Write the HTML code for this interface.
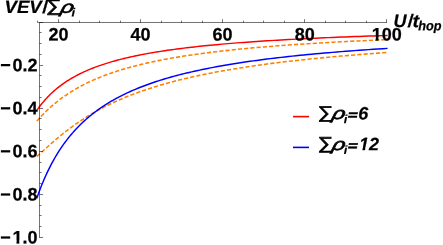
<!DOCTYPE html>
<html><head><meta charset="utf-8">
<title>VEV plot</title>
<style>
html,body{margin:0;padding:0;background:#fff;}
body{width:443px;height:245px;overflow:hidden;font-family:"Liberation Sans",sans-serif;}
svg{display:block}
text{font-family:"Liberation Sans",sans-serif;font-weight:bold;fill:#000;font-size:18px;stroke:#000;stroke-width:0.25px;}
.txt{filter:grayscale(1);}
.it text{font-style:italic;stroke-width:0.2px;}
.it text.up{font-style:normal;font-weight:normal;stroke-width:0.7px;}
.it text.rh{font-weight:normal;stroke-width:0.7px;}
.it text.eq{stroke-width:0.8px;}
text.sub{font-size:12.8px;stroke-width:0.2px;}
.it text.sub2{font-size:13.3px;stroke-width:0.25px;}
.it text.upb{font-style:normal;stroke-width:0.3px;}
.it text.ax{stroke-width:0.2px;}
</style></head><body>
<svg width="443" height="245" viewBox="0 0 443 245">
<defs>
<clipPath id="c1"><path d="M-2 -15H12V-2.96H6.85V0.6H4.02V-2.96H-2Z"/></clipPath>
<clipPath id="c1i"><path d="M-2 -15H13V-3.1H6.53L5.81 0.6H3.1L3.82 -3.1H-2Z"/></clipPath>
</defs>
<rect width="443" height="245" fill="#fff"/>
<g fill="none" stroke-linejoin="round">
<path d="M36.84 121.06 L37.57 120.23 L38.30 119.40 L39.05 118.58 L39.81 117.75 L40.57 116.93 L41.34 116.11 L42.13 115.29 L42.92 114.47 L43.72 113.66 L44.53 112.85 L45.35 112.03 L46.18 111.23 L47.02 110.42 L47.87 109.62 L48.74 108.82 L49.61 108.02 L50.49 107.23 L51.38 106.44 L52.29 105.65 L53.20 104.87 L54.13 104.09 L55.06 103.31 L56.01 102.54 L56.97 101.77 L57.94 101.00 L58.93 100.24 L59.92 99.48 L60.93 98.73 L61.95 97.98 L62.98 97.24 L64.02 96.50 L65.08 95.76 L66.15 95.03 L67.23 94.30 L68.32 93.58 L69.43 92.86 L70.55 92.15 L71.69 91.44 L72.84 90.73 L74.00 90.03 L75.17 89.34 L76.37 88.65 L77.57 87.97 L78.79 87.29 L80.02 86.61 L81.27 85.94 L82.54 85.28 L83.82 84.62 L85.11 83.96 L86.42 83.31 L87.75 82.67 L89.09 82.03 L90.45 81.40 L91.82 80.77 L93.22 80.14 L94.62 79.52 L96.05 78.91 L97.49 78.30 L98.95 77.70 L100.43 77.10 L101.92 76.51 L103.44 75.92 L104.97 75.34 L106.52 74.76 L108.09 74.19 L109.68 73.62 L111.28 73.06 L112.91 72.50 L114.55 71.95 L116.22 71.40 L117.91 70.86 L119.61 70.33 L121.34 69.79 L123.09 69.27 L124.85 68.75 L126.64 68.23 L128.46 67.72 L130.29 67.21 L132.14 66.71 L134.02 66.21 L135.92 65.72 L137.85 65.23 L139.79 64.75 L141.76 64.28 L143.76 63.80 L145.77 63.33 L147.82 62.87 L149.88 62.41 L151.97 61.96 L154.09 61.51 L156.23 61.07 L158.40 60.63 L160.60 60.19 L162.82 59.76 L165.07 59.33 L167.34 58.91 L169.64 58.49 L171.97 58.08 L174.33 57.67 L176.72 57.27 L179.13 56.87 L181.58 56.47 L184.05 56.08 L186.56 55.69 L189.09 55.31 L191.65 54.93 L194.25 54.55 L196.88 54.18 L199.53 53.81 L202.23 53.45 L204.95 53.09 L207.70 52.74 L210.49 52.39 L213.32 52.04 L216.17 51.69 L219.06 51.35 L221.99 51.02 L224.95 50.69 L227.95 50.36 L230.98 50.03 L234.05 49.71 L237.16 49.39 L240.30 49.08 L243.48 48.77 L246.71 48.46 L249.96 48.15 L253.26 47.85 L256.60 47.56 L259.98 47.26 L263.40 46.97 L266.86 46.68 L270.36 46.40 L273.91 46.12 L277.50 45.84 L281.13 45.57 L284.80 45.29 L288.52 45.03 L292.28 44.76 L296.09 44.50 L299.95 44.24 L303.85 43.98 L307.80 43.73 L311.79 43.48 L315.84 43.23 L319.93 42.98 L324.08 42.74 L328.27 42.50 L332.51 42.27 L336.81 42.03 L341.15 41.80 L345.55 41.57 L350.00 41.35 L354.51 41.12 L359.07 40.90 L363.68 40.68 L368.35 40.47 L373.08 40.26 L377.86 40.04 L382.70 39.84 L387.60 39.63" stroke="#ff8000" stroke-width="1.55" stroke-dasharray="4.2 2.05"/>
<path d="M36.84 156.44 L37.57 155.80 L38.30 155.14 L39.05 154.48 L39.81 153.80 L40.57 153.11 L41.34 152.41 L42.13 151.71 L42.92 150.99 L43.72 150.26 L44.53 149.53 L45.35 148.79 L46.18 148.04 L47.02 147.29 L47.87 146.52 L48.74 145.76 L49.61 144.98 L50.49 144.20 L51.38 143.41 L52.29 142.62 L53.20 141.83 L54.13 141.03 L55.06 140.22 L56.01 139.42 L56.97 138.61 L57.94 137.79 L58.93 136.97 L59.92 136.15 L60.93 135.33 L61.95 134.51 L62.98 133.68 L64.02 132.85 L65.08 132.02 L66.15 131.19 L67.23 130.36 L68.32 129.53 L69.43 128.69 L70.55 127.86 L71.69 127.03 L72.84 126.19 L74.00 125.36 L75.17 124.53 L76.37 123.69 L77.57 122.86 L78.79 122.03 L80.02 121.20 L81.27 120.38 L82.54 119.55 L83.82 118.73 L85.11 117.90 L86.42 117.08 L87.75 116.26 L89.09 115.45 L90.45 114.63 L91.82 113.82 L93.22 113.01 L94.62 112.20 L96.05 111.40 L97.49 110.60 L98.95 109.80 L100.43 109.01 L101.92 108.22 L103.44 107.43 L104.97 106.65 L106.52 105.87 L108.09 105.09 L109.68 104.32 L111.28 103.55 L112.91 102.78 L114.55 102.02 L116.22 101.26 L117.91 100.51 L119.61 99.76 L121.34 99.02 L123.09 98.28 L124.85 97.54 L126.64 96.81 L128.46 96.08 L130.29 95.36 L132.14 94.64 L134.02 93.93 L135.92 93.22 L137.85 92.51 L139.79 91.82 L141.76 91.12 L143.76 90.43 L145.77 89.75 L147.82 89.07 L149.88 88.39 L151.97 87.72 L154.09 87.06 L156.23 86.40 L158.40 85.74 L160.60 85.09 L162.82 84.44 L165.07 83.80 L167.34 83.17 L169.64 82.54 L171.97 81.91 L174.33 81.29 L176.72 80.68 L179.13 80.07 L181.58 79.46 L184.05 78.86 L186.56 78.27 L189.09 77.68 L191.65 77.09 L194.25 76.51 L196.88 75.94 L199.53 75.37 L202.23 74.80 L204.95 74.24 L207.70 73.69 L210.49 73.14 L213.32 72.59 L216.17 72.05 L219.06 71.51 L221.99 70.98 L224.95 70.46 L227.95 69.94 L230.98 69.42 L234.05 68.91 L237.16 68.40 L240.30 67.90 L243.48 67.41 L246.71 66.91 L249.96 66.43 L253.26 65.94 L256.60 65.46 L259.98 64.99 L263.40 64.52 L266.86 64.06 L270.36 63.60 L273.91 63.14 L277.50 62.69 L281.13 62.24 L284.80 61.80 L288.52 61.36 L292.28 60.93 L296.09 60.50 L299.95 60.08 L303.85 59.66 L307.80 59.24 L311.79 58.83 L315.84 58.42 L319.93 58.02 L324.08 57.62 L328.27 57.22 L332.51 56.83 L336.81 56.44 L341.15 56.06 L345.55 55.68 L350.00 55.31 L354.51 54.93 L359.07 54.57 L363.68 54.20 L368.35 53.84 L373.08 53.49 L377.86 53.13 L382.70 52.79 L387.60 52.44" stroke="#ff8000" stroke-width="1.55" stroke-dasharray="4.2 2.05"/>
<path d="M36.84 110.39 L37.57 109.34 L38.30 108.31 L39.05 107.29 L39.81 106.28 L40.57 105.28 L41.34 104.29 L42.13 103.32 L42.92 102.36 L43.72 101.41 L44.53 100.47 L45.35 99.54 L46.18 98.62 L47.02 97.71 L47.87 96.82 L48.74 95.93 L49.61 95.06 L50.49 94.19 L51.38 93.34 L52.29 92.50 L53.20 91.66 L54.13 90.84 L55.06 90.03 L56.01 89.22 L56.97 88.43 L57.94 87.64 L58.93 86.87 L59.92 86.10 L60.93 85.34 L61.95 84.59 L62.98 83.85 L64.02 83.12 L65.08 82.40 L66.15 81.69 L67.23 80.98 L68.32 80.29 L69.43 79.60 L70.55 78.92 L71.69 78.25 L72.84 77.58 L74.00 76.93 L75.17 76.28 L76.37 75.64 L77.57 75.01 L78.79 74.38 L80.02 73.76 L81.27 73.15 L82.54 72.55 L83.82 71.96 L85.11 71.37 L86.42 70.79 L87.75 70.21 L89.09 69.64 L90.45 69.08 L91.82 68.53 L93.22 67.98 L94.62 67.44 L96.05 66.90 L97.49 66.37 L98.95 65.85 L100.43 65.34 L101.92 64.83 L103.44 64.32 L104.97 63.82 L106.52 63.33 L108.09 62.85 L109.68 62.37 L111.28 61.89 L112.91 61.42 L114.55 60.96 L116.22 60.50 L117.91 60.05 L119.61 59.60 L121.34 59.16 L123.09 58.72 L124.85 58.29 L126.64 57.87 L128.46 57.45 L130.29 57.03 L132.14 56.62 L134.02 56.21 L135.92 55.81 L137.85 55.42 L139.79 55.02 L141.76 54.64 L143.76 54.26 L145.77 53.88 L147.82 53.50 L149.88 53.14 L151.97 52.77 L154.09 52.41 L156.23 52.05 L158.40 51.70 L160.60 51.36 L162.82 51.01 L165.07 50.67 L167.34 50.34 L169.64 50.01 L171.97 49.68 L174.33 49.36 L176.72 49.04 L179.13 48.72 L181.58 48.41 L184.05 48.10 L186.56 47.80 L189.09 47.50 L191.65 47.20 L194.25 46.91 L196.88 46.61 L199.53 46.33 L202.23 46.04 L204.95 45.76 L207.70 45.49 L210.49 45.21 L213.32 44.94 L216.17 44.68 L219.06 44.41 L221.99 44.15 L224.95 43.90 L227.95 43.64 L230.98 43.39 L234.05 43.14 L237.16 42.90 L240.30 42.65 L243.48 42.41 L246.71 42.18 L249.96 41.94 L253.26 41.71 L256.60 41.48 L259.98 41.26 L263.40 41.04 L266.86 40.82 L270.36 40.60 L273.91 40.38 L277.50 40.17 L281.13 39.96 L284.80 39.75 L288.52 39.55 L292.28 39.35 L296.09 39.15 L299.95 38.95 L303.85 38.75 L307.80 38.56 L311.79 38.37 L315.84 38.18 L319.93 37.99 L324.08 37.81 L328.27 37.63 L332.51 37.45 L336.81 37.27 L341.15 37.09 L345.55 36.92 L350.00 36.75 L354.51 36.58 L359.07 36.41 L363.68 36.25 L368.35 36.09 L373.08 35.92 L377.86 35.76 L382.70 35.61 L387.60 35.45" stroke="#ff0000" stroke-width="1.45"/>
<path d="M36.84 198.23 L37.57 196.14 L38.30 194.07 L39.05 192.02 L39.81 190.00 L40.57 188.01 L41.34 186.04 L42.13 184.09 L42.92 182.16 L43.72 180.26 L44.53 178.38 L45.35 176.52 L46.18 174.69 L47.02 172.88 L47.87 171.09 L48.74 169.32 L49.61 167.57 L50.49 165.84 L51.38 164.13 L52.29 162.44 L53.20 160.78 L54.13 159.13 L55.06 157.50 L56.01 155.89 L56.97 154.30 L57.94 152.73 L58.93 151.18 L59.92 149.65 L60.93 148.13 L61.95 146.64 L62.98 145.16 L64.02 143.70 L65.08 142.25 L66.15 140.83 L67.23 139.42 L68.32 138.03 L69.43 136.65 L70.55 135.29 L71.69 133.95 L72.84 132.62 L74.00 131.31 L75.17 130.01 L76.37 128.73 L77.57 127.47 L78.79 126.22 L80.02 124.98 L81.27 123.76 L82.54 122.55 L83.82 121.36 L85.11 120.18 L86.42 119.02 L87.75 117.87 L89.09 116.73 L90.45 115.61 L91.82 114.50 L93.22 113.41 L94.62 112.32 L96.05 111.25 L97.49 110.20 L98.95 109.15 L100.43 108.12 L101.92 107.10 L103.44 106.09 L104.97 105.10 L106.52 104.11 L108.09 103.14 L109.68 102.18 L111.28 101.23 L112.91 100.30 L114.55 99.37 L116.22 98.45 L117.91 97.55 L119.61 96.66 L121.34 95.77 L123.09 94.90 L124.85 94.04 L126.64 93.19 L128.46 92.34 L130.29 91.51 L132.14 90.69 L134.02 89.88 L135.92 89.08 L137.85 88.28 L139.79 87.50 L141.76 86.73 L143.76 85.96 L145.77 85.21 L147.82 84.46 L149.88 83.72 L151.97 82.99 L154.09 82.27 L156.23 81.56 L158.40 80.86 L160.60 80.16 L162.82 79.48 L165.07 78.80 L167.34 78.13 L169.64 77.46 L171.97 76.81 L174.33 76.16 L176.72 75.52 L179.13 74.89 L181.58 74.27 L184.05 73.65 L186.56 73.04 L189.09 72.44 L191.65 71.85 L194.25 71.26 L196.88 70.68 L199.53 70.11 L202.23 69.54 L204.95 68.98 L207.70 68.43 L210.49 67.88 L213.32 67.34 L216.17 66.81 L219.06 66.28 L221.99 65.76 L224.95 65.24 L227.95 64.73 L230.98 64.23 L234.05 63.73 L237.16 63.24 L240.30 62.76 L243.48 62.28 L246.71 61.81 L249.96 61.34 L253.26 60.88 L256.60 60.42 L259.98 59.97 L263.40 59.52 L266.86 59.08 L270.36 58.65 L273.91 58.22 L277.50 57.79 L281.13 57.37 L284.80 56.96 L288.52 56.55 L292.28 56.14 L296.09 55.74 L299.95 55.34 L303.85 54.95 L307.80 54.57 L311.79 54.19 L315.84 53.81 L319.93 53.44 L324.08 53.07 L328.27 52.70 L332.51 52.35 L336.81 51.99 L341.15 51.64 L345.55 51.29 L350.00 50.95 L354.51 50.61 L359.07 50.28 L363.68 49.95 L368.35 49.62 L373.08 49.30 L377.86 48.98 L382.70 48.66 L387.60 48.35" stroke="#0000ff" stroke-width="1.45"/>
</g>
<g stroke="#000" stroke-width="0.55" fill="none">
<line x1="37.6" y1="22.5" x2="387.0" y2="22.5"/>
<line x1="39.5" y1="22.5" x2="39.5" y2="237.8"/>
<line x1="37.50" y1="22.50" x2="37.50" y2="20.60"/>
<line x1="58.50" y1="22.50" x2="58.50" y2="19.20"/>
<line x1="79.50" y1="22.50" x2="79.50" y2="20.60"/>
<line x1="99.50" y1="22.50" x2="99.50" y2="20.60"/>
<line x1="120.50" y1="22.50" x2="120.50" y2="20.60"/>
<line x1="140.50" y1="22.50" x2="140.50" y2="19.20"/>
<line x1="161.50" y1="22.50" x2="161.50" y2="20.60"/>
<line x1="181.50" y1="22.50" x2="181.50" y2="20.60"/>
<line x1="202.50" y1="22.50" x2="202.50" y2="20.60"/>
<line x1="222.50" y1="22.50" x2="222.50" y2="19.20"/>
<line x1="243.50" y1="22.50" x2="243.50" y2="20.60"/>
<line x1="263.50" y1="22.50" x2="263.50" y2="20.60"/>
<line x1="284.50" y1="22.50" x2="284.50" y2="20.60"/>
<line x1="304.50" y1="22.50" x2="304.50" y2="19.20"/>
<line x1="325.50" y1="22.50" x2="325.50" y2="20.60"/>
<line x1="345.50" y1="22.50" x2="345.50" y2="20.60"/>
<line x1="366.50" y1="22.50" x2="366.50" y2="20.60"/>
<line x1="386.50" y1="22.50" x2="386.50" y2="19.20"/>
<line x1="39.50" y1="22.50" x2="43.10" y2="22.50"/>
<line x1="39.50" y1="32.50" x2="41.60" y2="32.50"/>
<line x1="39.50" y1="43.50" x2="41.60" y2="43.50"/>
<line x1="39.50" y1="54.50" x2="41.60" y2="54.50"/>
<line x1="39.50" y1="65.50" x2="43.10" y2="65.50"/>
<line x1="39.50" y1="75.50" x2="41.60" y2="75.50"/>
<line x1="39.50" y1="86.50" x2="41.60" y2="86.50"/>
<line x1="39.50" y1="97.50" x2="41.60" y2="97.50"/>
<line x1="39.50" y1="108.50" x2="43.10" y2="108.50"/>
<line x1="39.50" y1="118.50" x2="41.60" y2="118.50"/>
<line x1="39.50" y1="129.50" x2="41.60" y2="129.50"/>
<line x1="39.50" y1="140.50" x2="41.60" y2="140.50"/>
<line x1="39.50" y1="151.50" x2="43.10" y2="151.50"/>
<line x1="39.50" y1="162.50" x2="41.60" y2="162.50"/>
<line x1="39.50" y1="172.50" x2="41.60" y2="172.50"/>
<line x1="39.50" y1="183.50" x2="41.60" y2="183.50"/>
<line x1="39.50" y1="194.50" x2="43.10" y2="194.50"/>
<line x1="39.50" y1="205.50" x2="41.60" y2="205.50"/>
<line x1="39.50" y1="215.50" x2="41.60" y2="215.50"/>
<line x1="39.50" y1="226.50" x2="41.60" y2="226.50"/>
<line x1="39.50" y1="237.50" x2="43.10" y2="237.50"/>
</g>
<g class="txt">
<text text-anchor="middle" transform="translate(58.50,40.50) rotate(0.05)">20</text>
<text text-anchor="middle" transform="translate(140.45,40.50) rotate(0.05)">40</text>
<text text-anchor="middle" transform="translate(222.40,40.50) rotate(0.05)">60</text>
<text text-anchor="middle" transform="translate(304.65,40.50) rotate(0.05)">80</text>
<text clip-path="url(#c1)" transform="translate(371.68,40.50) rotate(0.05)">1</text>
<text transform="translate(381.69,40.50) rotate(0.05)">00</text>
<text text-anchor="end" transform="translate(37.50,71.15) rotate(0.05)">−<tspan dx="1.8">0.2</tspan></text>
<text text-anchor="end" transform="translate(37.50,114.25) rotate(0.05)">−<tspan dx="1.8">0.4</tspan></text>
<text text-anchor="end" transform="translate(37.50,157.35) rotate(0.05)">−<tspan dx="1.8">0.6</tspan></text>
<text text-anchor="end" transform="translate(37.50,200.45) rotate(0.05)">−<tspan dx="1.8">0.8</tspan></text>
<text transform="translate(0.17,243.55) rotate(0.05)">−</text>
<text clip-path="url(#c1)" transform="translate(12.48,243.55) rotate(0.05)">1</text>
<text transform="translate(22.49,243.55) rotate(0.05)">.0</text>
</g>
<g class="txt it">
<text class="ax" transform="translate(4.55,13.10) rotate(0.05) scale(1.035,1)">VEV</text>
<text class="upb" transform="translate(42.30,13.10) rotate(0.05) skewX(-5)">/</text>
<text class="up" transform="translate(46.08,11.32) rotate(0.05) scale(1.202,0.939)">&#8721;</text>
<text class="rh" transform="translate(59.86,12.79) rotate(0.05) scale(1.265,0.938) skewX(-10)">&#961;</text>
<text class="sub" transform="translate(71.50,16.40) rotate(0.05) scale(1,0.93)">i</text>
<text class="ax" transform="translate(393.40,27.05) rotate(0.05)">U</text>
<text class="upb" transform="translate(407.50,27.05) rotate(0.05) skewX(-6)">/</text>
<text class="ax" transform="translate(412.40,27.05) rotate(0.05) scale(1.1,1)">t</text>
<text class="sub2" transform="translate(418.30,30.15) rotate(0.05) scale(0.955,1)">hop</text>
<text class="up" transform="translate(317.78,117.92) rotate(0.05) scale(1.202,0.939)">&#8721;</text>
<text class="rh" transform="translate(331.36,119.09) rotate(0.05) scale(1.265,0.938) skewX(-10)">&#961;</text>
<text class="sub" transform="translate(343.70,123.30) rotate(0.05) scale(1,0.93)">i</text>
<text class="eq" transform="translate(347.11,119.30) rotate(0.05) scale(0.92,0.72) skewX(-8)">=</text>
<text transform="translate(358.30,119.40) rotate(0.05)">6</text>
<text class="up" transform="translate(317.78,148.72) rotate(0.05) scale(1.202,0.939)">&#8721;</text>
<text class="rh" transform="translate(331.36,149.89) rotate(0.05) scale(1.265,0.938) skewX(-10)">&#961;</text>
<text class="sub" transform="translate(343.70,154.10) rotate(0.05) scale(1,0.93)">i</text>
<text class="eq" transform="translate(347.11,150.10) rotate(0.05) scale(0.92,0.72) skewX(-8)">=</text>
<text clip-path="url(#c1i)" transform="translate(359.10,150.20) rotate(0.05)">1</text>
<text transform="translate(369.11,150.20) rotate(0.05)">2</text>
</g>
<line x1="293" y1="116.6" x2="309" y2="116.6" stroke="#ff0000" stroke-width="1.6"/>
<line x1="293" y1="147.4" x2="309" y2="147.4" stroke="#0000ff" stroke-width="1.6"/>
</svg>
</body></html>
